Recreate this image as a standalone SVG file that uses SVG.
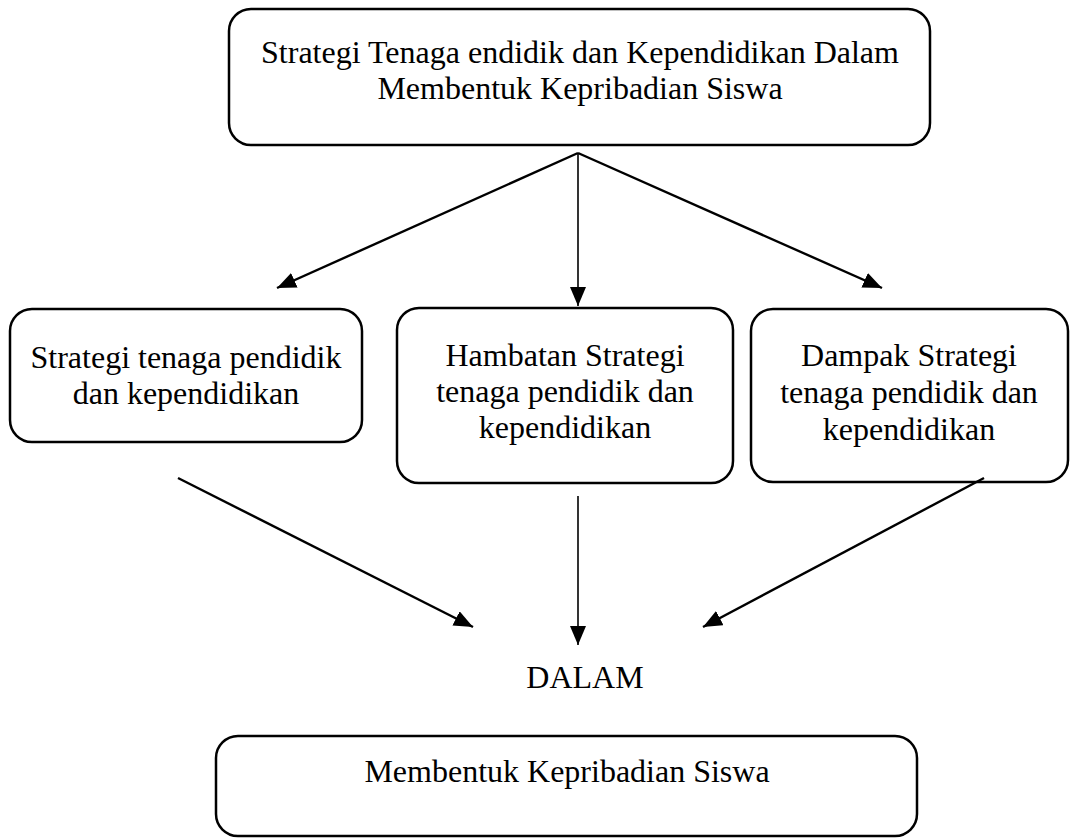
<svg xmlns="http://www.w3.org/2000/svg" width="1072" height="839" viewBox="0 0 1072 839">
<style>
.box{fill:#fff;stroke:#000;stroke-width:2.5}
.t{font-family:"Liberation Serif","Times New Roman",serif;font-size:32px;fill:#000;text-anchor:middle}
.c{stroke:#000;stroke-width:2.4;fill:none}
.v{stroke-width:1.6}
</style>
<defs>
<marker id="ah" markerUnits="userSpaceOnUse" markerWidth="22" markerHeight="18" refX="19" refY="8" orient="auto"><path d="M0,0 L19,8 L0,16 z" fill="#000"/></marker>
</defs>
<rect width="1072" height="839" fill="#fff"/>
<g id="top">
<rect class="box" x="229" y="9" width="701" height="136" rx="22"/>
<text class="t" x="580" y="63">Strategi Tenaga endidik dan Kependidikan Dalam</text>
<text class="t" x="580" y="99">Membentuk Kepribadian Siswa</text>
</g>
<g id="n1">
<rect class="box" x="10" y="309" width="352" height="133" rx="22"/>
<text class="t" x="186" y="368">Strategi tenaga pendidik</text>
<text class="t" x="186" y="404">dan kependidikan</text>
</g>
<g id="n2">
<rect class="box" x="397" y="308" width="336" height="175" rx="22"/>
<text class="t" x="565" y="366">Hambatan Strategi</text>
<text class="t" x="565" y="402">tenaga pendidik dan</text>
<text class="t" x="565" y="438">kependidikan</text>
</g>
<g id="n3">
<rect class="box" x="751" y="309" width="317" height="173" rx="22"/>
<text class="t" x="909" y="366">Dampak Strategi</text>
<text class="t" x="909" y="403">tenaga pendidik dan</text>
<text class="t" x="909" y="440">kependidikan</text>
</g>
<g id="dalam">
<text class="t" x="585" y="688">DALAM</text>
</g>
<g id="bottom">
<rect class="box" x="216" y="736" width="701" height="100" rx="22"/>
<text class="t" x="567" y="782">Membentuk Kepribadian Siswa</text>
</g>
<g id="connectors">
<line class="c" x1="578" y1="153" x2="277" y2="288" marker-end="url(#ah)"/>
<line class="c v" x1="578" y1="153" x2="578" y2="306" marker-end="url(#ah)"/>
<line class="c" x1="578" y1="153" x2="882" y2="288" marker-end="url(#ah)"/>
<line class="c" x1="178" y1="478" x2="473" y2="627" marker-end="url(#ah)"/>
<line class="c v" x1="578" y1="496" x2="578" y2="645" marker-end="url(#ah)"/>
<line class="c" x1="984" y1="478" x2="703" y2="627" marker-end="url(#ah)"/>
</g>
</svg>
